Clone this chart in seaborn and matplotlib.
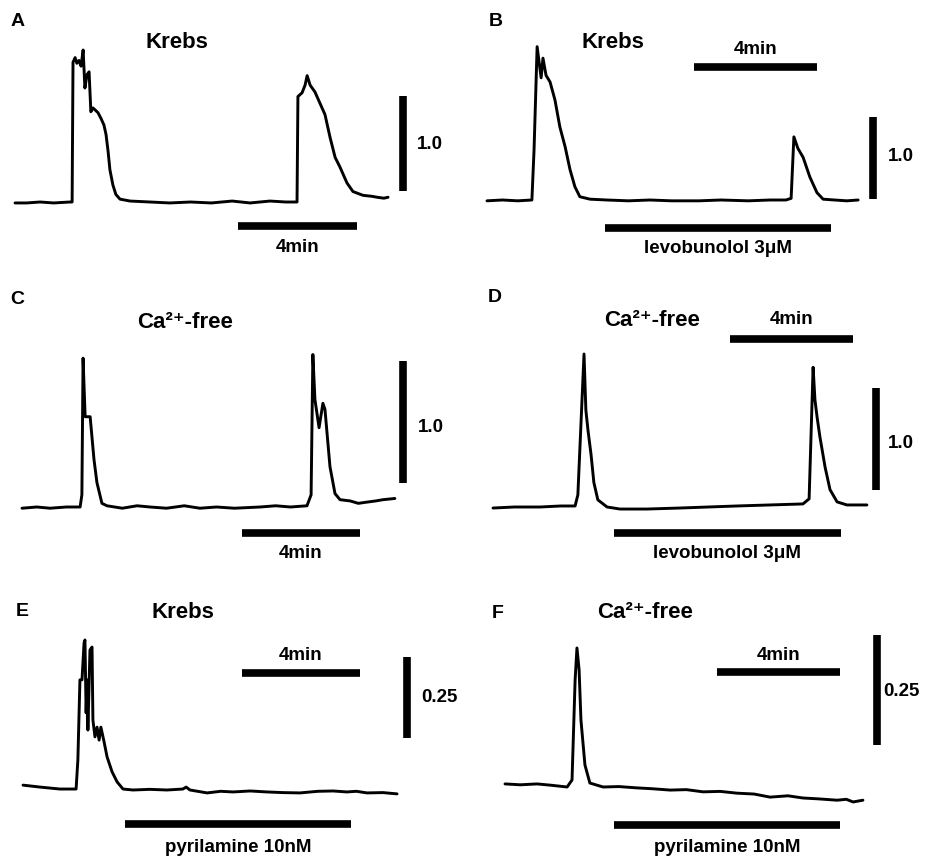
import matplotlib
matplotlib.use("Agg")
import matplotlib.pyplot as plt
import pandas as pd
import seaborn as sns

# Traces: time in minutes, fluorescence ratio
a_time = [0, 0.4, 0.84, 1.3, 1.85, 1.92, 1.95, 2.02, 2.08, 2.15, 2.22, 2.29, 2.35, 2.42,
          2.49, 2.55, 2.62, 2.69, 2.79, 2.89, 2.99, 3.06, 3.13, 3.19, 3.29, 3.39, 3.53,
          3.87, 4.54, 5.2, 5.9, 6.6, 7.3, 7.9, 8.57, 9.1, 9.48, 9.51, 9.65, 9.75, 9.82,
          9.92, 10.08, 10.25, 10.42, 10.59, 10.76, 10.92, 11.16, 11.36, 11.70, 12.0,
          12.17, 12.4, 12.54]
a_ratio = [-0.01, -0.01, 0.0, -0.01, 0.0, 0.0, 1.47, 1.52, 1.46, 1.49, 1.43, 1.60, 1.20,
           1.34, 1.37, 0.95, 0.99, 0.97, 0.94, 0.88, 0.81, 0.71, 0.53, 0.34, 0.18, 0.08,
           0.03, 0.01, 0.0, -0.01, 0.0, -0.01, 0.01, -0.01, 0.01, 0.0, 0.0, 1.11, 1.15,
           1.23, 1.33, 1.23, 1.16, 1.04, 0.92, 0.68, 0.47, 0.37, 0.20, 0.11, 0.07, 0.06,
           0.05, 0.04, 0.05]

b_time = [0, 0.5, 1.0, 1.46, 1.53, 1.63, 1.76, 1.82, 1.92, 2.05, 2.21, 2.37, 2.54, 2.70,
          2.86, 3.02, 3.35, 3.9, 4.6, 5.3, 6.0, 6.9, 7.6, 8.5, 9.2, 9.72, 9.89, 9.98,
          10.11, 10.28, 10.50, 10.73, 10.93, 11.3, 11.7, 12.07]
b_ratio = [-0.01, 0.0, -0.01, 0.0, 0.61, 1.87, 1.49, 1.73, 1.52, 1.44, 1.22, 0.89, 0.65,
           0.37, 0.16, 0.04, 0.01, 0.0, -0.01, 0.0, -0.01, -0.01, 0.0, -0.01, 0.0, 0.0,
           0.02, 0.77, 0.63, 0.52, 0.28, 0.09, 0.01, 0.0, -0.01, 0.0]

c_time = [0, 0.5, 0.95, 1.5, 1.97, 2.03, 2.07, 2.14, 2.31, 2.44, 2.54, 2.71, 2.88, 3.4,
          3.9, 4.34, 4.9, 5.5, 6.03, 6.6, 7.2, 8.07, 8.6, 9.1, 9.66, 9.80, 9.86, 9.93,
          10.07, 10.20, 10.27, 10.44, 10.61, 10.78, 11.12, 11.4, 11.69, 12.0, 12.24, 12.64]
c_ratio = [-0.01, 0.0, -0.01, 0.0, 0.0, 0.10, 1.22, 0.74, 0.74, 0.39, 0.20, 0.03, 0.01,
           -0.01, 0.01, 0.0, -0.01, 0.01, -0.01, 0.0, -0.01, 0.0, 0.01, 0.0, 0.01, 0.10,
           1.25, 0.88, 0.65, 0.85, 0.80, 0.33, 0.11, 0.06, 0.05, 0.03, 0.04, 0.05, 0.06,
           0.07]

d_time = [0, 0.7, 1.53, 2.2, 2.67, 2.76, 2.96, 3.02, 3.09, 3.19, 3.28, 3.41, 3.71, 4.13,
          5.0, 6.08, 7.0, 7.93, 9.0, 10.08, 10.28, 10.41, 10.47, 10.54, 10.63, 10.80,
          10.96, 11.19, 11.51, 12.16]
d_ratio = [-0.01, 0.0, 0.0, 0.01, 0.01, 0.12, 1.50, 0.95, 0.75, 0.51, 0.24, 0.07, 0.0,
           -0.02, -0.02, -0.01, 0.0, 0.01, 0.02, 0.03, 0.08, 1.37, 1.05, 0.88, 0.69, 0.39,
           0.17, 0.05, 0.02, 0.02]

e_time = [0, 0.58, 1.25, 1.80, 1.86, 1.93, 2.0, 2.07, 2.10, 2.14, 2.17, 2.20, 2.27, 2.34,
          2.37, 2.44, 2.51, 2.58, 2.64, 2.75, 2.85, 3.02, 3.19, 3.39, 3.73, 4.3, 4.88,
          5.42, 5.53, 5.66, 6.24, 6.7, 7.12, 7.7, 8.27, 8.8, 9.39, 10.0, 10.51, 10.98,
          11.3, 11.66, 12.2, 12.68]
e_ratio = [0.015, 0.009, 0.003, 0.003, 0.093, 0.340, 0.340, 0.454, 0.463, 0.238, 0.340,
           0.185, 0.432, 0.441, 0.216, 0.164, 0.194, 0.154, 0.194, 0.148, 0.102, 0.056,
           0.025, 0.003, 0.0, 0.002, 0.0, 0.003, 0.009, 0.0, -0.009, -0.004, -0.006,
           -0.003, -0.006, -0.008, -0.009, -0.004, -0.003, -0.006, -0.004, -0.009,
           -0.008, -0.012]

f_time = [0, 0.5, 1.04, 1.5, 2.02, 2.18, 2.28, 2.34, 2.41, 2.47, 2.60, 2.76, 3.19, 3.7,
          4.29, 4.8, 5.37, 5.9, 6.44, 7.0, 7.54, 8.1, 8.62, 9.2, 9.69, 10.2, 10.80, 11.1,
          11.32, 11.64]
f_ratio = [0.007, 0.005, 0.007, 0.004, 0.0, 0.016, 0.243, 0.316, 0.266, 0.152, 0.050,
           0.009, 0.0, 0.001, -0.002, -0.004, -0.007, -0.006, -0.011, -0.010, -0.014,
           -0.016, -0.023, -0.020, -0.025, -0.027, -0.030, -0.028, -0.034, -0.030]

# panel titles, scale bars and drug applications (start, end in minutes)
titles = ["Krebs", "Krebs", "Ca²⁺-free", "Ca²⁺-free", "Krebs", "Ca²⁺-free"]
time_scale = 4
ratio_scale = [1.0, 1.0, 1.0, 1.0, 0.25, 0.25]
drug_names = [None, "levobunolol 3μM", None, "levobunolol 3μM",
              "pyrilamine 10nM", "pyrilamine 10nM"]
drug_spans = [None, (3.84, 11.19), None, (3.93, 11.32), (3.46, 11.12), (3.54, 10.89)]

W, H = 934, 857

# layout in pixels: panel box, trace origin / px per min, baseline / px per unit,
# time bar (x, y), time label y, vertical bar (x, bottom), value label (x, y),
# drug bar y, drug label y, letter (x, y), title (x, y)
LAYOUT = [
    dict(box=(0, 0, 467, 285), t0=15, ppm=29.75, base=202, ppu=95,
         tbar=(238, 226), tlab=248, vbar=(403, 191), vlab=(417, 145),
         dbar=None, dlab=None, letter=(18, 22), title=(177, 42)),
    dict(box=(467, 0, 467, 285), t0=487, ppm=30.75, base=200, ppu=82,
         tbar=(694, 67), tlab=50, vbar=(873, 199), vlab=(888, 157),
         dbar=228, dlab=249, letter=(496, 22), title=(613, 43)),
    dict(box=(0, 285, 467, 290), t0=22, ppm=29.5, base=507, ppu=122,
         tbar=(242, 533), tlab=553, vbar=(403, 483), vlab=(418, 428),
         dbar=None, dlab=None, letter=(17, 300), title=(185, 322)),
    dict(box=(467, 285, 467, 290), t0=493, ppm=30.75, base=507, ppu=102,
         tbar=(730, 339), tlab=320, vbar=(876, 490), vlab=(888, 443),
         dbar=533, dlab=553, letter=(495, 298), title=(652, 320)),
    dict(box=(0, 575, 467, 282), t0=23, ppm=29.5, base=790, ppu=324,
         tbar=(242, 673), tlab=655, vbar=(407, 738), vlab=(421, 697),
         dbar=824, dlab=847, letter=(22, 612), title=(183, 613)),
    dict(box=(467, 575, 467, 282), t0=505, ppm=30.75, base=787, ppu=440,
         tbar=(717, 672), tlab=655, vbar=(877, 745), vlab=(883, 692),
         dbar=825, dlab=847, letter=(498, 613), title=(645, 613)),
]

sns.set_style("white")
plt.rcParams["font.family"] = ["Liberation Sans", "DejaVu Sans"]
plt.rcParams["font.weight"] = "bold"
plt.rcParams["text.color"] = "black"

fig = plt.figure(figsize=(W / 100, H / 100), dpi=100)

traces = [(a_time, a_ratio), (b_time, b_ratio), (c_time, c_ratio),
          (d_time, d_ratio), (e_time, e_ratio), (f_time, f_ratio)]

for i, ((t, r), lay) in enumerate(zip(traces, LAYOUT)):
    x0, y0, w, h = lay["box"]
    ax = fig.add_axes([x0 / W, 1 - (y0 + h) / H, w / W, h / H])
    t0, ppm, base, ppu = lay["t0"], lay["ppm"], lay["base"], lay["ppu"]
    ax.set_xlim((x0 - t0) / ppm, (x0 + w - t0) / ppm)
    ax.set_ylim((base - (y0 + h)) / ppu, (base - y0) / ppu)
    ax.axis("off")

    def tx(px):
        return (px - t0) / ppm

    def ry(py):
        return (base - py) / ppu

    df = pd.DataFrame({"time": t, "ratio": r})
    sns.lineplot(data=df, x="time", y="ratio", ax=ax, color="black", lw=2.1,
                 estimator=None, sort=False)

    # 4 min time bar
    bx, by = tx(lay["tbar"][0]), ry(lay["tbar"][1])
    ax.plot([bx, bx + time_scale], [by, by], color="black", lw=5.5,
            solid_capstyle="butt")
    ax.text(bx + time_scale / 2, ry(lay["tlab"]), f"{time_scale}min",
            ha="center", va="center", fontsize=13.5, fontweight="bold",
            color="black")

    # ratio scale bar
    vx, vy = tx(lay["vbar"][0]), ry(lay["vbar"][1])
    ax.plot([vx, vx], [vy, vy + ratio_scale[i]], color="black", lw=5.5,
            solid_capstyle="butt")
    label = f"{ratio_scale[i]:g}" if ratio_scale[i] < 1 else f"{ratio_scale[i]:.1f}"
    ax.text(tx(lay["vlab"][0]), ry(lay["vlab"][1]), label,
            ha="left", va="center", fontsize=13.5, fontweight="bold", color="black")

    # drug application bar
    if drug_spans[i] is not None:
        s, e = drug_spans[i]
        dy = ry(lay["dbar"])
        ax.plot([s, e], [dy, dy], color="black", lw=5.5, solid_capstyle="butt")
        ax.text((s + e) / 2, ry(lay["dlab"]), drug_names[i], ha="center",
                va="center", fontsize=13.5, fontweight="bold", color="black")

    ax.text(tx(lay["letter"][0]), ry(lay["letter"][1]), "ABCDEF"[i],
            ha="center", va="center", fontsize=14, fontweight="bold", color="black")
    ax.text(tx(lay["title"][0]), ry(lay["title"][1]), titles[i],
            ha="center", va="center", fontsize=16, fontweight="bold", color="black")

fig.savefig("out.png", dpi=100, facecolor="white")
